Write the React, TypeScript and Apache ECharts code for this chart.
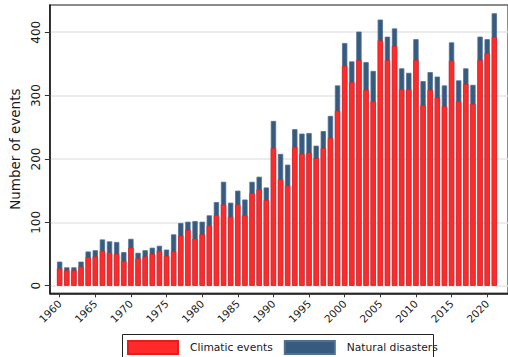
import React, { useEffect, useRef } from "react";
import * as echarts from "echarts";

const years = [
  1960, 1961, 1962, 1963, 1964, 1965, 1966, 1967, 1968, 1969,
  1970, 1971, 1972, 1973, 1974, 1975, 1976, 1977, 1978, 1979,
  1980, 1981, 1982, 1983, 1984, 1985, 1986, 1987, 1988, 1989,
  1990, 1991, 1992, 1993, 1994, 1995, 1996, 1997, 1998, 1999,
  2000, 2001, 2002, 2003, 2004, 2005, 2006, 2007, 2008, 2009,
  2010, 2011, 2012, 2013, 2014, 2015, 2016, 2017, 2018, 2019,
  2020, 2021,
];

const climaticEvents = [
  27, 24, 24, 30, 45, 46, 55, 52, 50, 39,
  60, 43, 46, 50, 55, 47, 54, 79, 88, 74,
  81, 95, 111, 128, 109, 128, 111, 146, 152, 135,
  217, 168, 158, 219, 208, 210, 201, 217, 233, 276,
  347, 321, 356, 309, 291, 387, 356, 378, 310, 310,
  356, 285, 309, 297, 283, 355, 291, 318, 287, 356,
  367, 392,
];

const naturalDisasters = [
  11, 5, 5, 8, 9, 10, 18, 18, 19, 14,
  14, 9, 10, 10, 8, 10, 27, 20, 13, 28,
  20, 16, 21, 36, 22, 22, 25, 18, 20, 20,
  43, 40, 33, 28, 32, 31, 20, 27, 35, 40,
  36, 33, 45, 44, 48, 33, 37, 28, 33, 26,
  33, 38, 28, 33, 33, 29, 33, 25, 30, 37,
  22, 38,
];

const xTickLabels = [1960, 1965, 1970, 1975, 1980, 1985, 1990, 1995, 2000, 2005, 2010, 2015, 2020];
const yTickLabels = [0, 100, 200, 300, 400];

const FONT = "DejaVu Sans";

export default function App() {
  const ref = useRef<HTMLDivElement>(null);

  useEffect(() => {
    if (!ref.current) return;
    const chart = echarts.init(ref.current, undefined, { renderer: "svg" });
    // stacked: the natural-disaster segment sits on top of the climatic one
    const stackedTop = years.map((y, i) => [y, climaticEvents[i] + naturalDisasters[i]]);
    chart.setOption({
      animation: false,
      textStyle: { fontFamily: FONT },
      grid: {
        left: 46,
        top: 5,
        right: -6,
        bottom: 63.7,
        show: true,
        borderColor: "#666",
        borderWidth: 1.5,
        backgroundColor: "transparent",
      },
      legend: {
        left: 127,
        top: 340,
        padding: 0,
        itemWidth: 50,
        itemHeight: 13,
        itemGap: 11,
        icon: "rect",
        textStyle: { fontFamily: FONT, fontSize: 10.7, color: "#1a1a1a", padding: [0, 0, 0, 7] },
        data: ["Climatic events", "Natural disasters"],
      },
      graphic: [
        {
          type: "rect",
          shape: { x: 122.5, y: 334.5, width: 311, height: 30 },
          style: { fill: "none", stroke: "#222", lineWidth: 1 },
          z: 10,
        },
      ],
      xAxis: {
        type: "value",
        min: 1958.63,
        max: 2022.92,
        splitLine: { show: false },
        axisLine: { show: true, onZero: false, lineStyle: { color: "#111", width: 1.5 } },
        axisTick: { show: true, length: 4, customValues: xTickLabels, lineStyle: { color: "#333" } },
        axisLabel: {
          customValues: xTickLabels,
          rotate: 45,
          fontSize: 10.5,
          color: "#1a1a1a",
          margin: 8.5,
          fontFamily: FONT,
          formatter: (v: number) => String(v),
        },
      },
      yAxis: {
        type: "value",
        min: -12,
        max: 443,
        name: "Number of events",
        nameLocation: "middle",
        nameGap: 24,
        nameTextStyle: { fontSize: 13.5, color: "#1a1a1a", fontFamily: FONT },
        axisLine: { show: true, lineStyle: { color: "#111", width: 1.5 } },
        axisTick: { show: true, length: 5, customValues: yTickLabels, lineStyle: { color: "#333" } },
        axisLabel: {
          customValues: yTickLabels,
          rotate: 90,
          fontSize: 12,
          color: "#1a1a1a",
          margin: 8,
          fontFamily: FONT,
          formatter: (v: number) => String(v),
        },
        splitLine: { show: true, lineStyle: { color: "#e6e6e6", width: 1.5 } },
      },
      series: [
        {
          name: "Natural disasters",
          type: "bar",
          barWidth: 5.3,
          barGap: "-100%",
          z: 2,
          itemStyle: { color: "#375b7f", borderColor: "#4f7093", borderWidth: 0.8 },
          data: stackedTop,
        },
        {
          name: "Climatic events",
          type: "bar",
          barWidth: 5.3,
          barGap: "-100%",
          z: 3,
          itemStyle: { color: "#ff2a2a", borderColor: "#e81c1c", borderWidth: 0.6 },
          data: years.map((y, i) => [y, climaticEvents[i]]),
        },
      ],
    });
    return () => chart.dispose();
  }, []);

  return (
    <div
      ref={ref}
      style={{ position: "fixed", left: 0, top: 0, width: 508, height: 357, background: "#fff" }}
    />
  );
}
